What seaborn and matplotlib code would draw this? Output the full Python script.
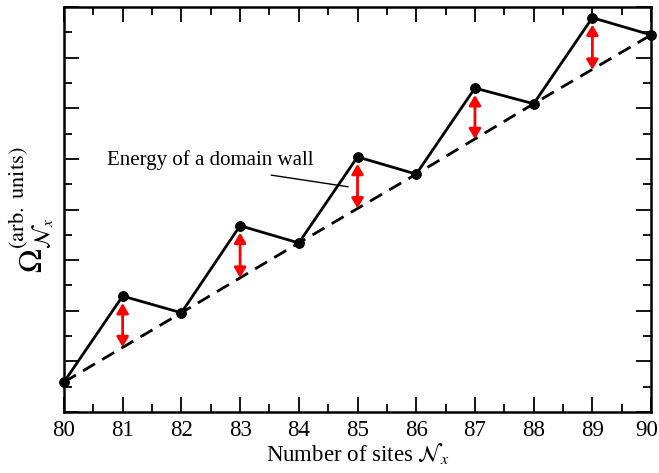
import numpy as np
import pandas as pd
import matplotlib
matplotlib.use("Agg")
import matplotlib.pyplot as plt
import seaborn as sns
from matplotlib.ticker import MultipleLocator, NullFormatter, FuncFormatter

# values (arbitrary units)
sites = [80, 81, 82, 83, 84, 85, 86, 87, 88, 89, 90]
omega = [0.59, 2.29, 1.96, 3.68, 3.34, 5.04, 4.70, 6.40, 6.09, 7.79, 7.45]
even_sites = [80, 82, 84, 86, 88, 90]
even_omega = [0.59, 1.96, 3.34, 4.70, 6.09, 7.45]
odd_sites = [81, 83, 85, 87, 89]
odd_omega = [2.29, 3.68, 5.04, 6.40, 7.79]
wall_base = [1.28, 2.65, 4.02, 5.39, 6.76]

sns.set_style("ticks")
plt.rcParams['font.family'] = ['Liberation Serif', 'DejaVu Serif']
plt.rcParams['mathtext.fontset'] = 'stix'
plt.rcParams['text.color'] = 'black'
plt.rcParams['axes.labelcolor'] = 'black'
plt.rcParams['xtick.color'] = 'black'
plt.rcParams['ytick.color'] = 'black'
plt.rcParams['axes.edgecolor'] = 'black'

fig = plt.figure(figsize=(6.59, 4.73), dpi=100)
ax = fig.add_axes([0.097, 0.129, 0.891, 0.856])

df = pd.DataFrame({'sites': sites, 'omega': omega})
df_even = pd.DataFrame({'sites': even_sites, 'omega': even_omega})

sns.lineplot(data=df_even, x='sites', y='omega', ax=ax, color='black',
             linestyle=(0, (5, 3)), linewidth=2, clip_on=False)
sns.lineplot(data=df, x='sites', y='omega', ax=ax, color='black',
             linewidth=2, marker='o', markersize=7, markeredgecolor='black',
             clip_on=False, zorder=5)

for xs, top, base in zip(odd_sites, odd_omega, wall_base):
    ax.annotate('', xy=(xs, base), xytext=(xs, top),
                arrowprops=dict(arrowstyle='<|-|>,head_length=0.6,head_width=0.35',
                                color='red', lw=2, shrinkA=5, shrinkB=0))

ax.text(82.49, 4.98, 'Energy of a domain wall', fontsize=15,
        ha='center', va='center')
ax.annotate('', xy=(84.84, 4.45), xytext=(83.53, 4.68),
            arrowprops=dict(arrowstyle='-', color='black', lw=1,
                            shrinkA=0, shrinkB=0))

ax.set_xlim(80, 90)
ax.set_ylim(0, 8)
ax.xaxis.set_major_locator(MultipleLocator(1))
ax.xaxis.set_minor_locator(MultipleLocator(0.5))
ax.yaxis.set_major_locator(MultipleLocator(1))
ax.yaxis.set_minor_locator(MultipleLocator(0.5))
ax.yaxis.set_major_formatter(NullFormatter())
# last label is drawn by hand, slightly nudged left so it fits in the figure
ax.xaxis.set_major_formatter(FuncFormatter(lambda v, p: '' if v >= 90 else f'{v:.0f}'))
ax.tick_params(which='both', direction='in', top=True, right=True, width=1.3)
ax.tick_params(which='major', length=11)
ax.tick_params(which='minor', length=6)
ax.tick_params(axis='x', labelsize=16.5, pad=6)
for s in ax.spines.values():
    s.set_linewidth(1.8)

ax.annotate('90', xy=(90, 0), xycoords=('data', 'axes fraction'),
            xytext=(-3, -6), textcoords='offset points',
            ha='center', va='top', fontsize=16.5, annotation_clip=False)

ax.set_xlabel(r'Number of sites $\mathcal{N}_x$', fontsize=16.5, labelpad=0)
ax.set_ylabel(r'$\Omega_{\mathcal{N}_x}^{\mathrm{(arb.\ units)}}$', fontsize=23, labelpad=2)

fig.savefig('out.png', dpi=100)
